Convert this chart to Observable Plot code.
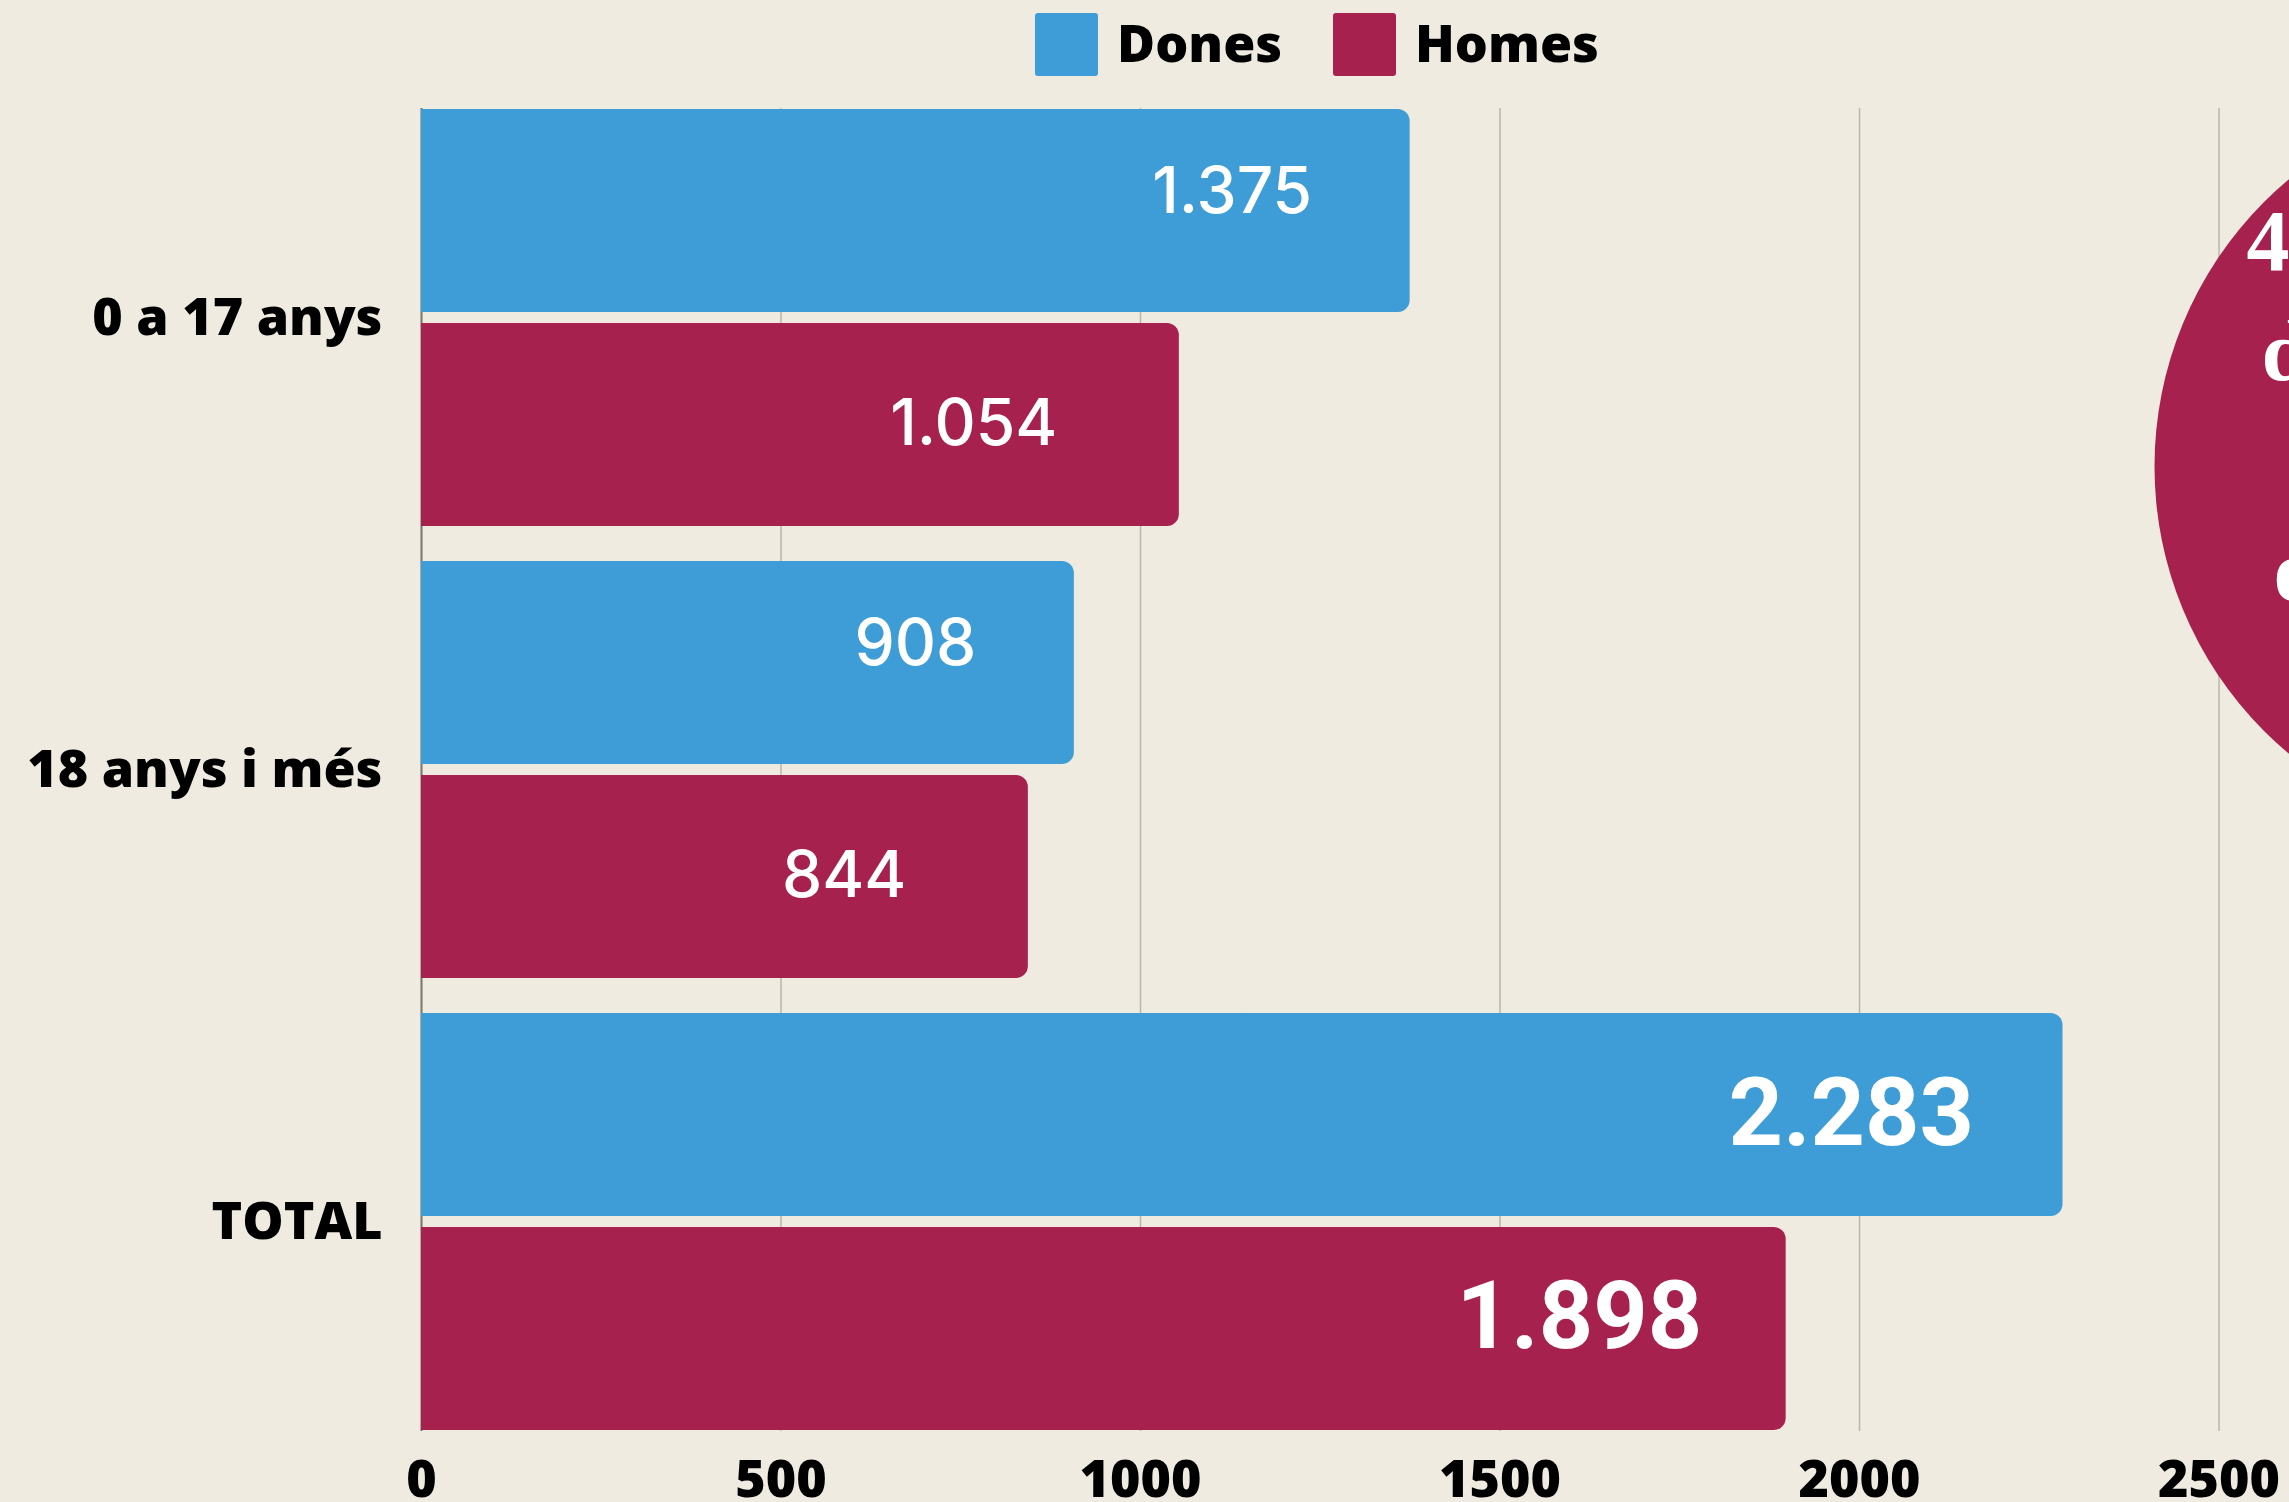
<!DOCTYPE html>
<html><head><meta charset="utf-8">
<script src="https://cdn.jsdelivr.net/npm/d3@7"></script>
<script src="https://cdn.jsdelivr.net/npm/@observablehq/plot@0.6"></script>
<style>
html,body{margin:0;padding:0;background:#efebe1;overflow:hidden;width:2289px;height:1502px;}
#legend{position:relative;height:88px;}
.item{position:absolute;top:13px;height:63px;display:flex;align-items:center;font-family:"Open Sans";font-weight:800;font-size:52px;color:#000;line-height:1;}
.item span{position:relative;top:-3px;}
.sw{width:63px;height:63px;border-radius:3px;margin-right:19px;}
</style></head><body>
<div id="legend"></div>
<div id="chart"></div>
<script>
const groups = ["0 a 17 anys", "18 anys i més", "TOTAL"];
const series = ["Dones", "Homes"];
const dones = [1375, 908, 2283];
const homes = [1054, 844, 1898];
const xTicks = [0, 500, 1000, 1500, 2000, 2500];
const colors = ["#3e9dd6", "#a6214d"];
const calloutLines = ["4.181", "de", "o"];

const rows = groups.flatMap((g, i) => [
  {group: g, sex: series[0], value: dones[i]},
  {group: g, sex: series[1], value: homes[i]}
]);
const fmt = d3.formatLocale({decimal: ",", thousands: ".", grouping: [3], currency: ["", "€"]}).format(",");

// legend
const legend = document.getElementById("legend");
const legendLeft = [1035, 1333];
series.forEach((s, i) => {
  const it = document.createElement("div");
  it.className = "item";
  it.style.left = legendLeft[i] + "px";
  it.innerHTML = `<div class="sw" style="background:${colors[i]}"></div><span>${s}</span>`;
  legend.appendChild(it);
});

const D = rows.filter(d => d.sex === "Dones");
const H = rows.filter(d => d.sex === "Homes");
const isTot = d => d.group === "TOTAL";
const inset = 214;

const labelSmall = {fill: "white", fontFamily: "Inter", fontWeight: 500, fontSize: 64, textAnchor: "end"};
const labelBig = {fill: "white", fontFamily: "Roboto", fontWeight: 700, fontSize: 95, textAnchor: "end"};
const serif = {fill: "white", fontFamily: "Liberation Serif", fontWeight: 700, fontSize: 86, textAnchor: "start", lineAnchor: "middle", frameAnchor: "top-right"};

const plot = Plot.plot({
  width: 2289,
  height: 1414,
  marginTop: 20,
  marginBottom: 71,
  marginLeft: 421,
  marginRight: 0,
  style: {background: "transparent", color: "#000", fontFamily: "Open Sans", fontSize: "52px", fontWeight: 800, overflow: "hidden"},
  x: {domain: [0, 2598]},
  y: {domain: groups, paddingInner: 0.0775, paddingOuter: 0},
  marks: [
    Plot.gridX(xTicks, {stroke: "#bab6aa", strokeOpacity: 1, strokeWidth: 1.5}),
    Plot.ruleX([0], {stroke: "#7a786f", strokeWidth: 2}),
    Plot.barX(D, {x: "value", y: "group", fill: colors[0], insetBottom: inset, rx: 12}),
    Plot.barX(D, {x1: 0, x2: d => d.value / 2, y: "group", fill: colors[0], insetBottom: inset}),
    Plot.barX(H, {x: "value", y: "group", fill: colors[1], insetTop: inset, rx: 12}),
    Plot.barX(H, {x1: 0, x2: d => d.value / 2, y: "group", fill: colors[1], insetTop: inset}),
    Plot.text(D.filter(d => !isTot(d)), {x: "value", y: "group", text: d => fmt(d.value), dx: -98, dy: -125, ...labelSmall}),
    Plot.text(H.filter(d => !isTot(d)), {x: "value", y: "group", text: d => fmt(d.value), dx: -122, dy: 107, ...labelSmall}),
    Plot.text(D.filter(isTot), {x: "value", y: "group", text: d => fmt(d.value), dx: -89, dy: -107, ...labelBig}),
    Plot.text(H.filter(isTot), {x: "value", y: "group", text: d => fmt(d.value), dx: -84, dy: 96, ...labelBig}),
    Plot.dot([calloutLines], {frameAnchor: "top-right", dx: 239, dy: 358, r: 374, fill: colors[1], stroke: null}),
    Plot.text([calloutLines[0]], {text: d => d, dx: -43, dy: 134, ...serif}),
    Plot.text([calloutLines[1]], {text: d => d, dx: -28, dy: 244, ...serif}),
    Plot.text([calloutLines[2]], {text: d => d, dx: -16, dy: 464, ...serif}),
    Plot.axisX(xTicks, {tickSize: 0, tickPadding: 29, label: null, tickFormat: d => String(d), fontSize: 52, fontWeight: 800}),
    Plot.axisY({tickSize: 0, tickPadding: 39, label: null, fontSize: 52, fontWeight: 800})
  ]
});
document.getElementById("chart").appendChild(plot);
</script>
</body></html>
